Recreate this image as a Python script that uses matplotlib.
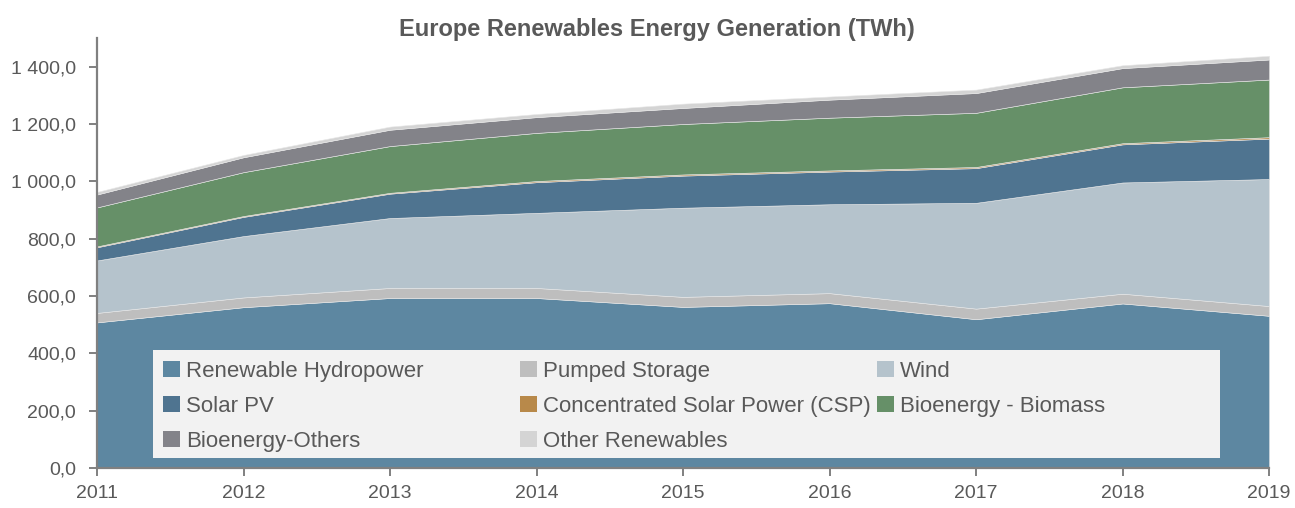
import matplotlib.pyplot as plt
import matplotlib.ticker as mticker
from matplotlib.patches import Patch, Rectangle
from matplotlib.legend import Legend

years = [2011, 2012, 2013, 2014, 2015, 2016, 2017, 2018, 2019]

hydro = [508, 561, 593, 593, 562, 575, 519, 574, 531]
pumped = [33, 34, 35, 35, 35, 35, 37, 34, 34]
wind = [183, 214, 244, 262, 311, 310, 369, 388, 443]
solar_pv = [46, 67, 85, 107, 112, 114, 121, 133, 141]
csp = [3, 3, 3, 4, 4, 4, 4, 4, 5]
biomass = [136, 153, 163, 168, 176, 184, 189, 195, 201]
bio_others = [45, 52, 57, 55, 56, 63, 69, 67, 70]
other = [9, 8, 11, 11, 15, 11, 12, 10, 13]

names = ['Renewable Hydropower', 'Pumped Storage', 'Wind', 'Solar PV',
         'Concentrated Solar Power (CSP)', 'Bioenergy - Biomass',
         'Bioenergy-Others', 'Other Renewables']
colors = ['#5d87a1', '#bebebe', '#b5c3cc', '#4f7490',
          '#b8894a', '#669068', '#838389', '#d4d4d4']

plt.rcParams['font.family'] = ['Liberation Sans', 'DejaVu Sans']

fig = plt.figure(figsize=(12.95, 5.08), dpi=100)
ax = fig.add_axes([0.0749, 0.0787, 0.9051, 0.8465])

ax.stackplot(years, hydro, pumped, wind, solar_pv, csp, biomass, bio_others, other,
             colors=colors, edgecolor='#e8e8e8', linewidth=0.4)

ax.set_xlim(2011, 2019)
ax.set_ylim(0, 1500)
ax.set_yticks(range(0, 1401, 200))
ax.set_xticks(years)
ax.yaxis.set_major_formatter(mticker.FuncFormatter(
    lambda v, p: f'{v:,.1f}'.replace(',', ' ').replace('.', ',')))

for s in ['top', 'right']:
    ax.spines[s].set_visible(False)
for s in ['left', 'bottom']:
    ax.spines[s].set_color('#808080')
    ax.spines[s].set_linewidth(1.6)
ax.tick_params(colors='#808080', labelcolor='#595959', labelsize=14,
               width=1.4, length=6)
ax.tick_params(axis='y', pad=9)
ax.tick_params(axis='x', pad=6)

fig.text(0.507, 0.941, 'Europe Renewables Energy Generation (TWh)', fontsize=17,
         fontweight='bold', color='#595959', ha='center', va='center')

# legend background box
ax.add_patch(Rectangle((0.0478, 0.0233), 0.9104, 0.2511, transform=ax.transAxes,
                       facecolor='#f2f2f2', edgecolor='none', zorder=3))

handles = [Patch(facecolor=c) for c in colors]
cols = [[0, 3, 6], [1, 4, 7], [2, 5]]
xs = [0.0563, 0.3609, 0.6655]
for idx, x in zip(cols, xs):
    leg = Legend(ax, [handles[i] for i in idx], [names[i] for i in idx],
                 loc='upper left', bbox_to_anchor=(x, 0.25),
                 fontsize=16, labelcolor='#595959', frameon=False,
                 handlelength=0.75, handleheight=0.75, handletextpad=0.3,
                 borderpad=0, labelspacing=0.63, borderaxespad=0)
    leg.set_zorder(4)
    ax.add_artist(leg)

fig.savefig('out.png', dpi=100)
